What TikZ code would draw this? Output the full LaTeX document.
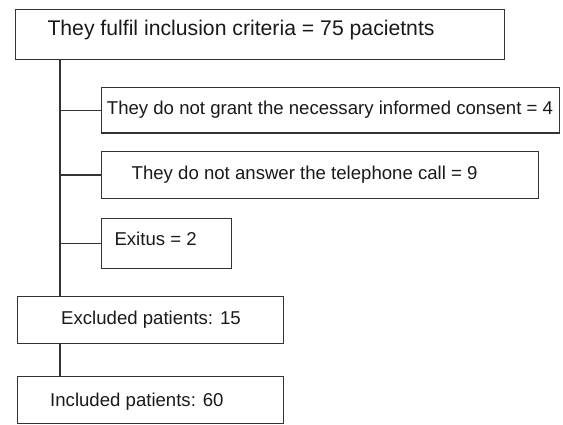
\documentclass[tikz,border=0pt]{standalone}
\usepackage{fontspec}
\setmainfont{Liberation Sans}
\definecolor{linegray}{HTML}{333333}
\begin{document}
\begin{tikzpicture}[x=1pt,y=-1pt,
  box/.style={draw=linegray, line width=1.1pt, rectangle, inner sep=0pt, anchor=north west},
  txt/.style={inner sep=0pt, anchor=base west, text=black!90, font=\fontsize{18.6}{22}\selectfont},
  conn/.style={draw=linegray, line width=1.1pt}]
\useasboundingbox (0,0) rectangle (563,425);
% boxes
\node[box, minimum width=489pt, minimum height=49.4pt] (top) at (15,9.3) {};
\node[box, minimum width=458.6pt, minimum height=45.8pt] (b2) at (100.7,86.7) {};
\node[box, minimum width=437pt, minimum height=47.6pt] (b3) at (100.7,150.7) {};
\node[box, minimum width=130.3pt, minimum height=50.3pt] (b4) at (100.7,217.7) {};
\node[box, minimum width=266pt, minimum height=47.6pt] (b5) at (16.7,295.7) {};
\node[box, minimum width=266pt, minimum height=47pt] (b6) at (16.7,375.7) {};
% texts
\node[txt, font=\fontsize{21.2}{25}\selectfont] (t1) at (47.3,36) {They fulfil inclusion criteria = 75 pacietnts};
\node[txt] (t2) at (106.7,115) {They do not grant the necessary informed consent = 4};
\node[txt] (t3) at (131.5,179.6) {They do not answer the telephone call = 9};
\node[txt] (t4) at (114.3,246) {Exitus = 2};
\node[txt] (t5) at (61,324.3) {Excluded patients: 15};
\node[txt] (t6) at (50,406) {Included patients: 60};
% connectors
\coordinate (spine) at (60,0);
\draw[conn] (top.south -| spine) -- (b5.north -| spine);
\draw[conn] (b2.west -| spine) -- (b2.west);
\draw[conn] (b3.west -| spine) -- (b3.west);
\draw[conn] (b4.west -| spine) -- (b4.west);
\draw[conn] (b5.south -| spine) -- (b6.north -| spine);
\end{tikzpicture}
\end{document}
